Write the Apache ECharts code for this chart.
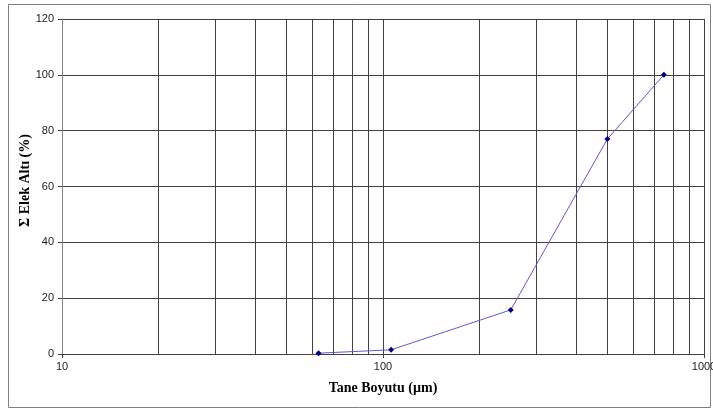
<!DOCTYPE html>
<html><head><meta charset="utf-8">
<script src="https://cdn.jsdelivr.net/npm/echarts@6/dist/echarts.min.js"></script>
<style>html,body{margin:0;padding:0;background:#fff}#c{width:713px;height:410px}</style>
</head><body><div id="c"></div>
<script>
const sizes = [63, 106, 250, 500, 750];
const passing = [0.3, 1.5, 15.8, 77, 100];
const minorGrid = [20, 30, 40, 50, 60, 70, 80, 90, 200, 300, 400, 500, 600, 700, 800, 900];
const xTitle = 'Tane Boyutu (µm)';
const yTitle = 'Σ Elek Altı (%)';

const chart = echarts.init(document.getElementById('c'), null, {renderer: 'canvas'});
chart.setOption({
  animation: false,
  backgroundColor: '#fff',
  graphic: [{type: 'rect', shape: {x: 8.5, y: 4.5, width: 702, height: 403}, style: {fill: 'none', stroke: '#808080', lineWidth: 1}, z: -1}],
  grid: {left: 62, right: 9, top: 19, bottom: 56, containLabel: false, outerBoundsMode: 'none'},
  xAxis: {
    type: 'log', logBase: 10, min: 10, max: 1000,
    name: xTitle, nameLocation: 'middle', nameGap: 27, nameMoveOverlap: false,
    nameTextStyle: {fontFamily: 'Liberation Serif', fontWeight: 'bold', fontSize: 14, color: '#000'},
    axisLine: {show: true, lineStyle: {color: '#404040', width: 1}},
    axisTick: {show: true, length: 4, lineStyle: {color: '#404040'}},
    axisLabel: {fontFamily: 'Liberation Sans', fontSize: 11, color: '#222', margin: 7, formatter: v => String(Math.round(v))},
    splitLine: {show: true, lineStyle: {color: '#404040', width: 1}}
  },
  yAxis: {
    type: 'value', min: 0, max: 120, interval: 20,
    name: yTitle, nameLocation: 'middle', nameGap: 30, nameRotate: 90, nameMoveOverlap: false,
    nameTextStyle: {fontFamily: 'Liberation Serif', fontWeight: 'bold', fontSize: 14, color: '#000', padding: [0, 0, 0, 12]},
    axisLine: {show: true, lineStyle: {color: '#808080', width: 1}},
    axisTick: {show: true, length: 4, lineStyle: {color: '#404040'}},
    axisLabel: {fontFamily: 'Liberation Sans', fontSize: 11, color: '#222', margin: 8},
    splitLine: {show: true, lineStyle: {color: '#404040', width: 1}}
  },
  series: [{
    type: 'line',
    data: sizes.map((s, i) => [s, passing[i]]),
    symbol: 'diamond', symbolSize: 6,
    itemStyle: {color: '#000080'},
    lineStyle: {color: '#5a5ad0', width: 1},
    markLine: {
      silent: true, symbol: ['none', 'none'], label: {show: false},
      lineStyle: {color: '#404040', width: 1, type: 'solid'},
      data: minorGrid.map(v => ({xAxis: v})),
      z: 1
    },
    z: 3
  }]
});
</script></body></html>
